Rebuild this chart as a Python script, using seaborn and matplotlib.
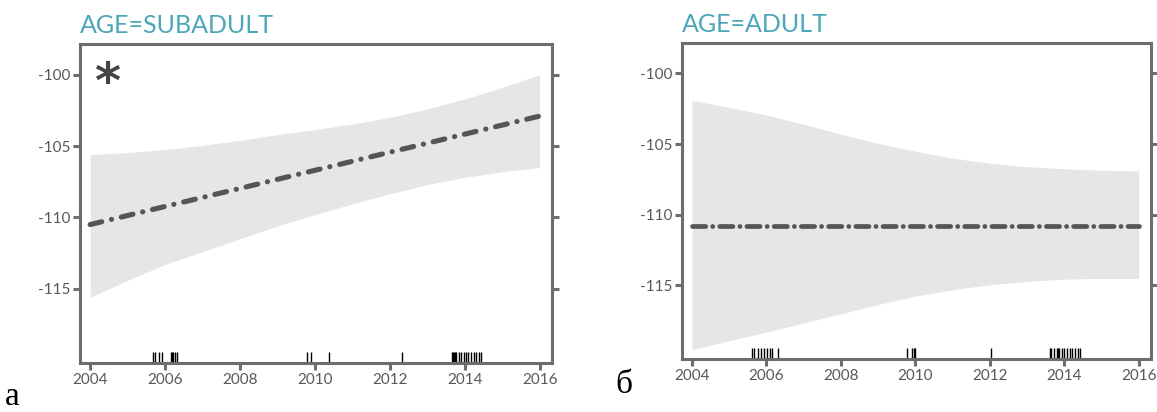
import matplotlib
matplotlib.use("Agg")

import matplotlib.pyplot as plt
import seaborn as sns
import pandas as pd

# ---------------- data ----------------
band_years = [2004, 2005, 2006, 2007, 2008, 2009, 2010,
              2011, 2012, 2013, 2014, 2015, 2016]

# AGE=SUBADULT
sub_upper = [-105.6, -105.45, -105.25, -104.95, -104.6, -104.2, -103.85,
             -103.45, -103.0, -102.4, -101.7, -100.9, -100.0]
sub_lower = [-115.6, -114.4, -113.3, -112.4, -111.5, -110.6, -109.8,
             -109.05, -108.35, -107.7, -107.2, -106.8, -106.5]
fit_years = [2004, 2016]
sub_fit = [-110.5, -102.9]
sub_rug = [2005.67, 2005.74, 2005.85, 2005.92, 2006.16, 2006.19, 2006.22,
           2006.27, 2006.31, 2009.80, 2009.90, 2010.38, 2012.32,
           2013.65, 2013.68, 2013.71, 2013.74, 2013.78, 2013.84, 2013.90,
           2013.97, 2014.03, 2014.10, 2014.17, 2014.24, 2014.31, 2014.37,
           2014.43]

# AGE=ADULT
adult_upper = [-101.9, -102.4, -102.95, -103.6, -104.3, -104.95, -105.5,
               -106.0, -106.35, -106.6, -106.75, -106.85, -106.9]
adult_lower = [-119.55, -118.9, -118.3, -117.65, -117.0, -116.35, -115.75,
               -115.3, -114.95, -114.7, -114.55, -114.5, -114.5]
adult_fit = [-110.8, -110.8]
adult_rug = [2005.60, 2005.67, 2005.76, 2005.85, 2005.93, 2006.02, 2006.09,
             2006.16, 2006.31, 2009.77, 2009.92, 2009.95, 2009.98, 2012.03,
             2013.61, 2013.64, 2013.72, 2013.80, 2013.83, 2013.87, 2013.95,
             2014.00, 2014.08, 2014.15, 2014.22, 2014.30, 2014.38, 2014.41]

x_ticks = [2004, 2006, 2008, 2010, 2012, 2014, 2016]
y_ticks = [-100, -105, -110, -115]

# ---------------- style ----------------
sns.set_style("white")
plt.rcParams["font.family"] = ["Lato", "DejaVu Sans"]
plt.rcParams["lines.scale_dashes"] = False
plt.rcParams["axes.unicode_minus"] = False

FRAME = "#6d6d6d"
BAND = "#e6e6e8"
LINE = "#555555"
TITLE = "#4ba6b8"
TEXT = "#585858"

fig = plt.figure(figsize=(11.57, 4.12), dpi=100)

ax_a = fig.add_axes([80 / 1157, 49 / 412, 472 / 1157, 319 / 412])
ax_b = fig.add_axes([682 / 1157, 53 / 412, 469 / 1157, 316 / 412])

panels = [
    (ax_a, "AGE=SUBADULT", sub_upper, sub_lower, sub_fit, sub_rug,
     (0, (8.6, 7.2, 0.1, 7.2)), 3.7),
    (ax_b, "AGE=ADULT", adult_upper, adult_lower, adult_fit, adult_rug,
     (0, (9.5, 5.0, 0.1, 5.0)), 3.4),
]

for ax, title, upper, lower, fit, rug, dash, lw in panels:

    # Confidence band
    ax.fill_between(band_years, lower, upper, color=BAND, lw=0)

    # Fitted line
    fit_df = pd.DataFrame({"year": fit_years, "value": fit})
    sns.lineplot(data=fit_df, x="year", y="value", ax=ax, color=LINE,
                 lw=lw, linestyle=dash, dash_capstyle="round")

    # Observation rug
    sns.rugplot(x=rug, ax=ax, height=0.034, color="black", lw=1.1)

    ax.set_xlim(2003.73, 2016.33)
    ax.set_ylim(-120.2, -97.85)
    ax.set_xticks(x_ticks)
    ax.set_yticks(y_ticks)
    ax.set_xlabel("")
    ax.set_ylabel("")

    for side in ["left", "right", "top", "bottom"]:
        ax.spines[side].set_visible(True)
        ax.spines[side].set_color(FRAME)
        ax.spines[side].set_linewidth(2.2)

    ax.tick_params(axis="both", which="major", direction="out",
                   length=5, width=2.2, color=FRAME,
                   labelsize=11, labelcolor=TEXT, pad=2)
    ax.tick_params(axis="y", right=True, left=True)
    ax.tick_params(axis="x", bottom=True)

    ax.text(0.0, 1.035, title, transform=ax.transAxes, ha="left",
            va="baseline", fontsize=18, color=TITLE)

# Asterisk marks the significant trend
ax_a.text(0.058, 0.875, "*", transform=ax_a.transAxes, ha="center",
          va="center", fontsize=36, fontweight="bold", color="#444444",
          family=["DejaVu Sans"])

# Panel letters
fig.text(0.004, 0.018, "a", fontsize=24, color="black",
         family=["Liberation Serif", "DejaVu Serif"])
fig.text(0.532, 0.045, "б", fontsize=24, color="black",
         family=["Liberation Serif", "DejaVu Serif"])

fig.savefig("out.png", dpi=100)
plt.close(fig)
